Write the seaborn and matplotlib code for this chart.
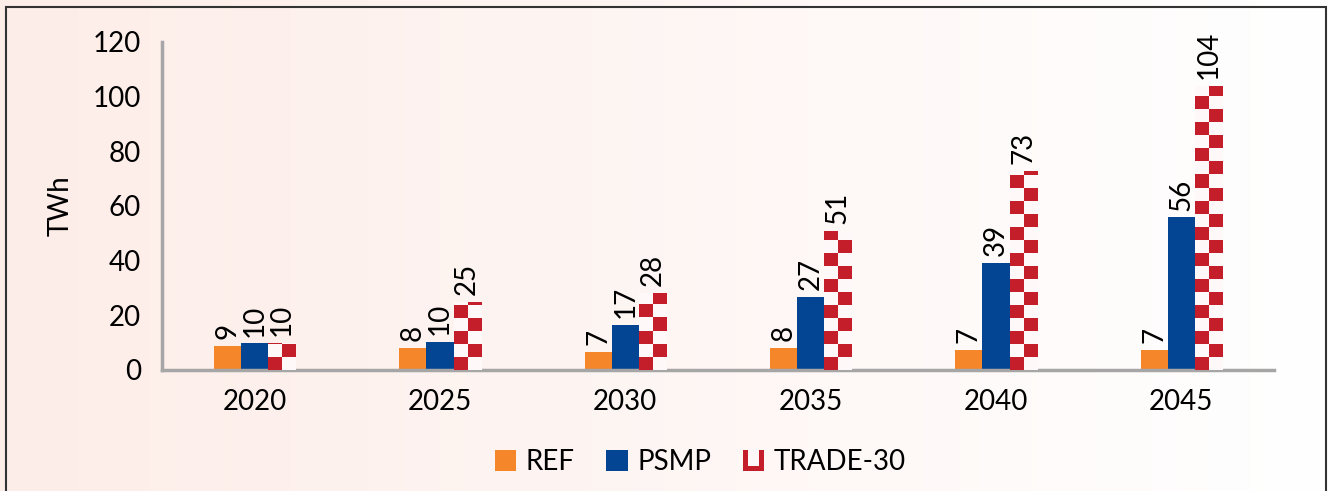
import numpy as np
import pandas as pd
import matplotlib
matplotlib.use("Agg")
import matplotlib.pyplot as plt
import seaborn as sns
from matplotlib.patches import Rectangle
from matplotlib.legend_handler import HandlerBase

years = ["2020", "2025", "2030", "2035", "2040", "2045"]
series = ["REF", "PSMP", "TRADE-30"]
ref = [8.9, 8.2, 6.6, 8.1, 7.3, 7.3]
psmp = [9.7, 10.2, 16.6, 26.8, 39.1, 55.8]
trade = [9.8, 24.8, 28.2, 50.8, 72.7, 104.0]
yticks = [0, 20, 40, 60, 80, 100, 120]

colors = {"REF": "#F5862A", "PSMP": "#034592", "TRADE-30": "#FFFFFF"}
RED = np.array([196, 30, 42]) / 255
WHITE = np.array([255, 248, 248]) / 255
FS = 20

df = pd.DataFrame({
    "year": years * 3,
    "series": ["REF"] * 6 + ["PSMP"] * 6 + ["TRADE-30"] * 6,
    "value": ref + psmp + trade,
})

sns.set_theme(style="white")
plt.rcParams["font.family"] = ["Lato", "DejaVu Sans"]
plt.rcParams["text.color"] = "black"
plt.rcParams["axes.labelcolor"] = "black"
plt.rcParams["xtick.labelcolor"] = "black"
plt.rcParams["ytick.labelcolor"] = "black"

W, H = 1328, 491
fig = plt.figure(figsize=(W / 100, H / 100), dpi=100)

# background gradient
bg = fig.add_axes([0, 0, 1, 1], zorder=-10)
grad = np.linspace(0, 1, 256)
c0 = np.array([253, 237, 232]) / 255
c1 = np.array([255, 255, 255]) / 255
img = (c0[None, :] * (1 - grad[:, None]) + c1[None, :] * grad[:, None])[None, :, :]
bg.imshow(img, aspect="auto", extent=[0, 1, 0, 1])
bg.set_xlim(0, 1)
bg.set_ylim(0, 1)
bg.axis("off")
bg.add_patch(Rectangle((6 / W, -0.1), (1326 - 6) / W, 1.1 - 7 / H,
                       fill=False, edgecolor="#333333", lw=1.5,
                       transform=bg.transAxes))

ax = fig.add_axes([162 / W, (H - 370) / H, (1274 - 162) / W, (370 - 42) / H])
ax.patch.set_alpha(0)

sns.barplot(data=df, x="year", y="value", hue="series", order=years,
            hue_order=series, palette=colors, width=0.44, ax=ax,
            saturation=1, legend=False, edgecolor="none", linewidth=0)

ax.set_xlim(-0.5, 5.5)
ax.set_ylim(0, 120)
ax.set_yticks(yticks)
ax.set_yticklabels([str(v) for v in yticks], fontsize=FS)
ax.set_xlabel("")
ax.set_ylabel("TWh", fontsize=FS, labelpad=14)
ax.tick_params(axis="x", which="major", length=0, labelsize=FS, pad=14)
ax.set_xticks(np.arange(-0.5, 6.0, 1.0), minor=True)
ax.tick_params(axis="x", which="minor", length=9, width=2, color="#A6A6A6",
               direction="out")
ax.tick_params(axis="y", length=9, width=2, color="#A6A6A6", direction="out",
               pad=6)
for s in ["top", "right"]:
    ax.spines[s].set_visible(False)
for s in ["left", "bottom"]:
    ax.spines[s].set_color("#A6A6A6")
    ax.spines[s].set_linewidth(2.5)

# checkerboard fill for TRADE-30
sq_y = 13 / 328 * 120
trade_container = ax.containers[2]
for bar in trade_container:
    x0 = bar.get_x()
    w = bar.get_width()
    h = bar.get_height()
    nrows = int(np.ceil(h / sq_y)) + 1
    pat = np.zeros((nrows, 2, 3))
    for r in range(nrows):
        for c in range(2):
            rb = nrows - 1 - r
            pat[r, c] = RED if (rb + c) % 2 == 0 else WHITE
    im = ax.imshow(pat, extent=[x0, x0 + w, 0, nrows * sq_y],
                   aspect="auto", interpolation="nearest", zorder=3)
    im.set_clip_path(bar)

ax.set_xlim(-0.5, 5.5)
ax.set_ylim(0, 120)

for cont in ax.containers:
    ax.bar_label(cont, fmt="%.0f", rotation=90, padding=5, fontsize=FS,
                 color="black")

# legend
class CheckerHandler(HandlerBase):
    def create_artists(self, legend, orig_handle, xdescent, ydescent,
                       width, height, fontsize, trans):
        s = height
        x0 = width - s - xdescent
        half = s / 2
        arts = [Rectangle((x0, -ydescent), s, s, facecolor=RED,
                          edgecolor="none", transform=trans),
                Rectangle((x0 + half * 0.5, -ydescent + half * 0.5),
                          half, half * 1.5, facecolor=WHITE,
                          edgecolor="none", transform=trans)]
        return arts

class SquareHandler(HandlerBase):
    def create_artists(self, legend, orig_handle, xdescent, ydescent,
                       width, height, fontsize, trans):
        s = height
        return [Rectangle((width - s - xdescent, -ydescent), s, s,
                          facecolor=orig_handle.get_facecolor(),
                          edgecolor="none", transform=trans)]

h_ref = Rectangle((0, 0), 1, 1, facecolor=colors["REF"])
h_psmp = Rectangle((0, 0), 1, 1, facecolor=colors["PSMP"])
h_trade = Rectangle((0, 0), 1, 1, facecolor="white")
fig.legend([h_ref, h_psmp, h_trade], series, loc="center",
           bbox_to_anchor=(700 / W, (H - 462) / H), ncol=3, frameon=False,
           fontsize=FS, handlelength=0.8, handleheight=0.8, handletextpad=0.35,
           columnspacing=1.1,
           handler_map={h_ref: SquareHandler(), h_psmp: SquareHandler(),
                        h_trade: CheckerHandler()})

fig.savefig("out.png", dpi=100)
